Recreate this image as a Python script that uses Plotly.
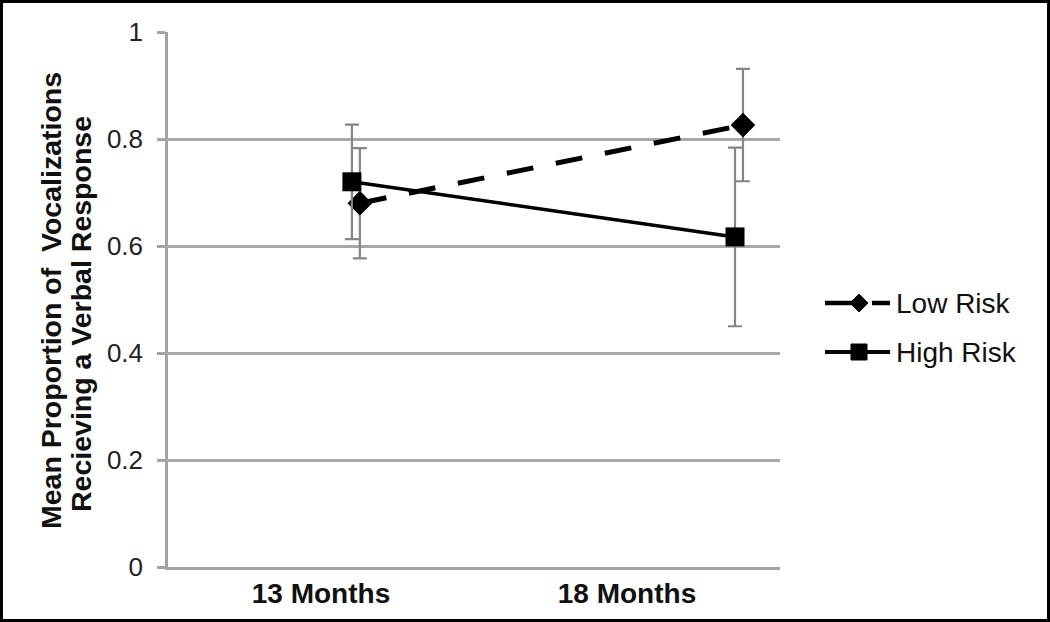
import plotly.graph_objects as go

# data
categories = ["13 Months", "18 Months"]
low_risk = [0.68, 0.826]
low_risk_err = [0.103, 0.105]
high_risk = [0.72, 0.617]
high_risk_err = [0.107, 0.167]

# the points sit to the right of the category centres in the original
low_shift = [0.127, 0.379]
high_shift = [0.101, 0.353]

idx = list(range(len(categories)))
x_low = [i + s for i, s in zip(idx, low_shift)]
x_high = [i + s for i, s in zip(idx, high_shift)]

FONT = "Arial, Liberation Sans, sans-serif"
err_style = dict(type="data", visible=True, color="#858585", thickness=2.2, width=7)

fig = go.Figure()
fig.add_trace(go.Scatter(
    x=x_low, y=low_risk, name="Low Risk", mode="lines+markers",
    line=dict(color="black", width=5, dash="27px,23px"),
    marker=dict(symbol="diamond", size=19, color="black"),
    error_y=dict(array=low_risk_err, **err_style)))
fig.add_trace(go.Scatter(
    x=x_high, y=high_risk, name="High Risk", mode="lines+markers",
    line=dict(color="black", width=3.5),
    marker=dict(symbol="square", size=19, color="black"),
    error_y=dict(array=high_risk_err, **err_style)))

W, H = 1050, 622
L, R, T, B = 168, 270, 32, 55
pw, ph = W - L - R, H - T - B

def px_x(p):
    return (p - L) / pw

def px_y(p):
    return (H - B - p) / ph

shapes = [dict(type="rect", xref="paper", yref="paper",
               x0=px_x(1.5), x1=px_x(W - 1.5), y0=px_y(H - 1.5), y1=px_y(1.5),
               line=dict(color="black", width=3), layer="above")]

# hand-made legend, the plotly legend line is too short
legend_rows = [("Low Risk", 303, "36px,11px", 4.5,
                "M-9,0 L0,9 L9,0 L0,-9 Z"),
               ("High Risk", 352, "solid", 4,
                "M-8,-8 L8,-8 L8,8 L-8,8 Z")]
annotations = []
for label, yy, dash, lw, sym in legend_rows:
    shapes.append(dict(type="line", xref="paper", yref="paper",
                       x0=px_x(825), x1=px_x(890), y0=px_y(yy), y1=px_y(yy),
                       line=dict(color="black", width=lw, dash=dash)))
    shapes.append(dict(type="path", xref="paper", yref="paper",
                       xsizemode="pixel", ysizemode="pixel",
                       xanchor=px_x(859), yanchor=px_y(yy), path=sym,
                       fillcolor="black", line=dict(color="black", width=1)))
    annotations.append(dict(text=label, xref="paper", yref="paper",
                            x=px_x(894), y=px_y(yy), xanchor="left", yanchor="middle",
                            showarrow=False, font=dict(size=28, family=FONT, color="#111")))

# y title as two separate lines
title_lines = [("Mean Proportion of\u00a0 Vocalizations", 51, 301),
               ("Recieving a Verbal Response", 81, 314)]
for txt, xx, yy in title_lines:
    annotations.append(dict(text="<b>" + txt + "</b>", xref="paper", yref="paper",
                            x=px_x(xx), y=px_y(yy), xanchor="center", yanchor="middle",
                            textangle=-90, showarrow=False,
                            font=dict(size=28.5, family=FONT, color="#111")))

fig.update_layout(
    width=W, height=H,
    margin=dict(l=L, r=R, t=T, b=B),
    paper_bgcolor="white", plot_bgcolor="white",
    font=dict(family=FONT, color="#111", size=26),
    showlegend=False,
    xaxis=dict(range=[-0.5, 1.5], tickvals=idx, ticktext=categories,
               tickfont=dict(size=28, family=FONT, weight="bold", color="#111"),
               showgrid=False, zeroline=False, showline=True,
               linecolor="#a3a3a3", linewidth=2.5, ticks=""),
    yaxis=dict(range=[0, 1], dtick=0.2, tickformat="~g",
               showgrid=True, gridcolor="#a8a8a8", gridwidth=2.5,
               zeroline=False, showline=True, linecolor="#a3a3a3", linewidth=2.5,
               ticks="outside", ticklen=8, tickcolor="#a3a3a3", tickwidth=2.5,
               ticklabelstandoff=9,
               tickfont=dict(size=26, color="#222", family=FONT)),
    shapes=shapes,
    annotations=annotations,
)

fig.write_html("out.html", config={"displayModeBar": False},
               post_script="document.body.style.margin='0';")
